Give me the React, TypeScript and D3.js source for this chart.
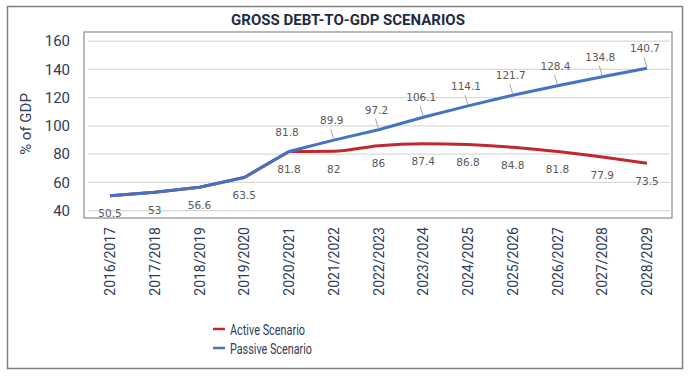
import React from "react";
import * as d3 from "d3";

const categories = [
  "2016/2017", "2017/2018", "2018/2019", "2019/2020", "2020/2021", "2021/2022",
  "2022/2023", "2023/2024", "2024/2025", "2025/2026", "2026/2027", "2027/2028", "2028/2029",
];
const activeValues = [50.5, 53, 56.6, 63.5, 81.8, 82, 86, 87.4, 86.8, 84.8, 81.8, 77.9, 73.5];
const passiveValues = [50.5, 53, 56.6, 63.5, 81.8, 89.9, 97.2, 106.1, 114.1, 121.7, 128.4, 134.8, 140.7];
const yTicks = [40, 60, 80, 100, 120, 140, 160];
const seriesNames = ["Active Scenario", "Passive Scenario"];
const title = "GROSS DEBT-TO-GDP SCENARIOS";
const yTitle = "% of GDP";

const W = 697;
const H = 380;
const plot = { left: 84, top: 32, right: 672, bottom: 218 };
const RED = "#c0282f";
const BLUE = "#4472c4";
const FONT = "Roboto, 'Noto Sans', sans-serif";

export default function App() {
  const x = d3
    .scalePoint<string>()
    .domain(categories)
    .range([110, 647]);
  const y = d3.scaleLinear().domain([34.8, 166.4]).range([plot.bottom, plot.top]);

  const pts = (vals: number[]) =>
    vals.map((v, i) => [x(categories[i]) as number, y(v)] as [number, number]);
  const smooth = d3.line().curve(d3.curveMonotoneX);
  const straight = d3.line();

  const activePts = pts(activeValues);
  const passivePts = pts(passiveValues);

  return (
    <svg
      width={W}
      height={H}
      style={{ position: "absolute", left: 0, top: 0, background: "#fff" }}
      fontFamily={FONT}
    >
      <rect x={7.5} y={6.5} width={675} height={362} fill="#fff" stroke="#7f7f7f" strokeWidth={1.5} />
      <text x={348} y={25} textAnchor="middle" fontSize={15} fontWeight="bold" fill="#1f2b45">
        {title}
      </text>

      {/* grid */}
      {yTicks.map((t) => (
        <line key={t} x1={88} x2={670} y1={y(t)} y2={y(t)} stroke="#d9d9d9" strokeWidth={1.2} />
      ))}
      <rect
        x={plot.left}
        y={plot.top}
        width={plot.right - plot.left}
        height={plot.bottom - plot.top}
        fill="none"
        stroke="#8c8c8c"
        strokeWidth={1.2}
      />

      {/* y tick labels */}
      {yTicks.map((t) => (
        <text key={t} x={70} y={y(t)} dy="0.35em" textAnchor="end" fontSize={15} fill="#2e3d5a">
          {t}
        </text>
      ))}
      <text
        transform={`translate(31,124) rotate(-90)`}
        textAnchor="middle"
        fontSize={15}
        fill="#2e3d5a"
      >
        {yTitle}
      </text>

      {/* x tick labels */}
      {categories.map((c) => (
        <text
          key={c}
          transform={`translate(${(x(c) as number) + 5},227) rotate(-90)`}
          textAnchor="end"
          fontSize={14}
          fill="#2e3d5a"
        >
          {c}
        </text>
      ))}

      {/* lines */}
      <path d={straight(activePts.slice(0, 5)) || ""} fill="none" stroke={RED} strokeWidth={3} />
      <path d={smooth(activePts.slice(4)) || ""} fill="none" stroke={RED} strokeWidth={3} />
      <path d={straight(passivePts) || ""} fill="none" stroke={BLUE} strokeWidth={3} strokeLinejoin="round" />

      {/* active labels (below) */}
      {activeValues.map((v, i) => (
        <text
          key={"a" + i}
          x={x(categories[i]) as number}
          y={y(v) + 18}
          dy="0.35em"
          textAnchor="middle"
          fontSize={10.5}
          fontFamily="'DejaVu Sans', sans-serif"
          fill="#595959"
        >
          {v}
        </text>
      ))}

      {/* passive labels (above) with leader lines */}
      {passiveValues.map((v, i) => {
        if (i < 4) return null;
        const px = x(categories[i]) as number;
        const py = y(v);
        const ly = py - 17;
        return (
          <g key={"p" + i}>
            {i > 4 && (
              <line x1={px - 3} y1={ly + 6} x2={px} y2={py - 1} stroke="#a6a6a6" strokeWidth={1} />
            )}
            <text
              x={px - 2}
              y={ly}
              dy="0.1em"
              textAnchor="middle"
              fontSize={10.5}
              fontFamily="'DejaVu Sans', sans-serif"
              fill="#595959"
            >
              {v}
            </text>
          </g>
        );
      })}

      {/* legend */}
      {seriesNames.map((s, i) => (
        <g key={s} transform={`translate(213,${329 + i * 19})`}>
          <line x1={0} x2={12} y1={0} y2={0} stroke={i === 0 ? RED : BLUE} strokeWidth={2.5} />
          <text
            x={17}
            y={0}
            dy="0.36em"
            fontSize={15.5}
            fill="#2e3d5a"
            textLength={i === 0 ? 75 : 82}
            lengthAdjust="spacingAndGlyphs"
          >
            {s}
          </text>
        </g>
      ))}
    </svg>
  );
}
